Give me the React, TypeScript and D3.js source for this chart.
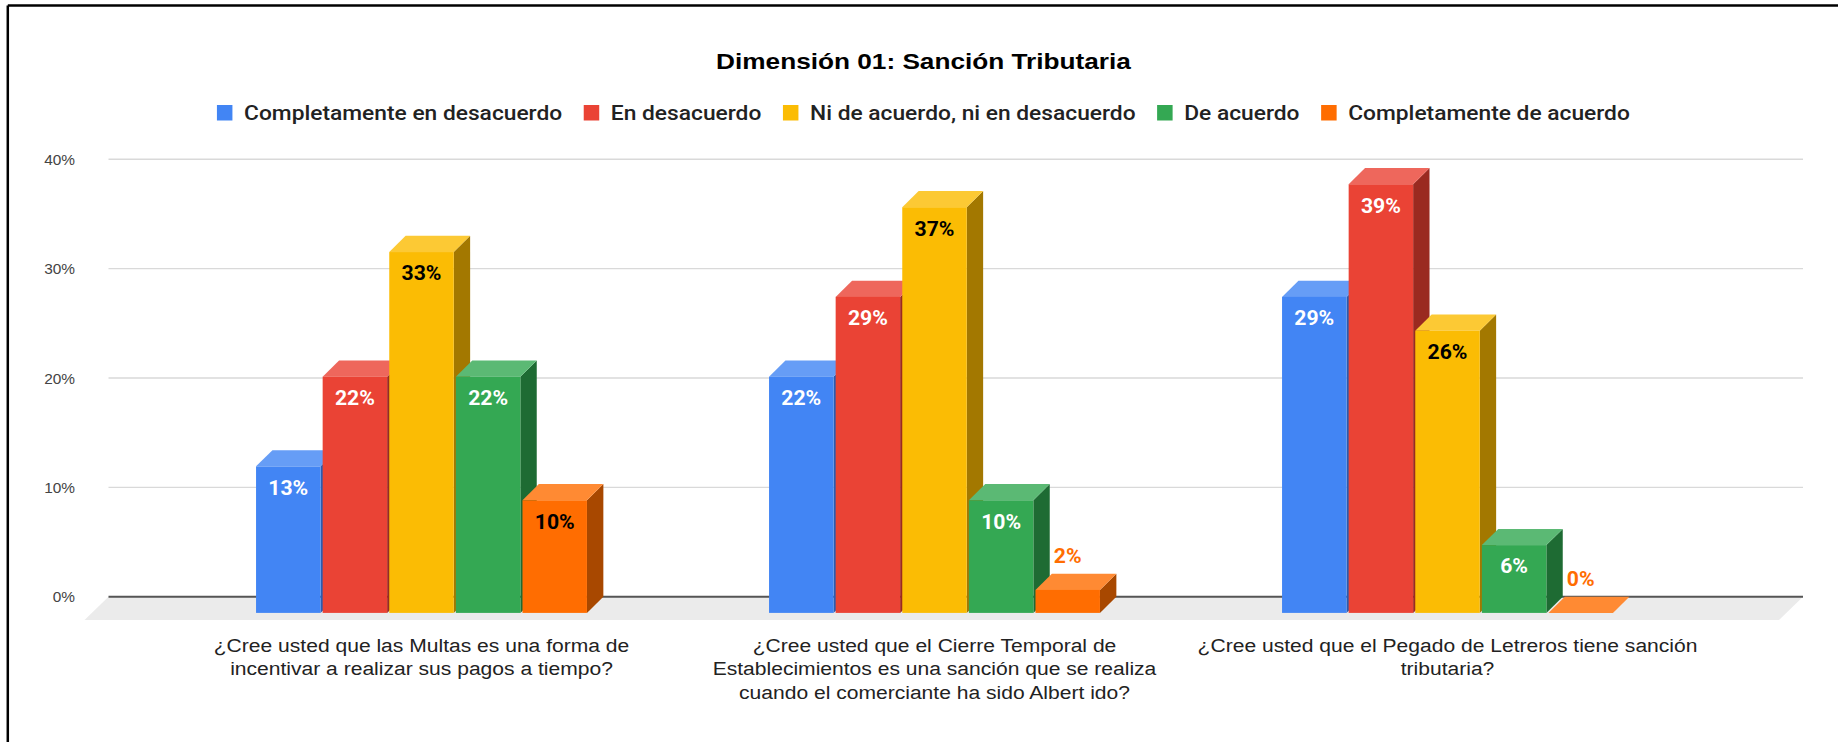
import React from 'react';
import * as d3 from 'd3';

// ---------- data ----------
const categoryLines: string[][] = [
  ['¿Cree usted que las Multas es una forma de', 'incentivar a realizar sus pagos a tiempo?'],
  ['¿Cree usted que el Cierre Temporal de', 'Establecimientos es una sanción que se realiza', 'cuando el comerciante ha sido Albert ido?'],
  ['¿Cree usted que el Pegado de Letreros tiene sanción', 'tributaria?'],
];
const seriesNames = [
  'Completamente en desacuerdo',
  'En desacuerdo',
  'Ni de acuerdo, ni en desacuerdo',
  'De acuerdo',
  'Completamente de acuerdo',
];
const completamenteEnDesacuerdo = [13.4, 21.6, 28.9];
const enDesacuerdo = [21.6, 28.9, 39.2];
const niDeAcuerdoNiEnDesacuerdo = [33.0, 37.1, 25.8];
const deAcuerdo = [21.6, 10.3, 6.2];
const completamenteDeAcuerdo = [10.3, 2.1, 0];
const yTicks = [0, 10, 20, 30, 40];
const titleText = 'Dimensión 01: Sanción Tributaria';

// ---------- styles ----------
const front = ['#4285F4', '#EA4335', '#FBBC04', '#34A853', '#FF6D01'];
const topC = ['#669DF6', '#EE675C', '#FCC934', '#5BB974', '#FF8A33'];
const sideC = ['#2B5CB0', '#9A2A20', '#A37800', '#1E6B33', '#A84800'];
const insideLabel = ['#FFFFFF', '#FFFFFF', '#000000', '#FFFFFF', '#000000'];

const W = 1838;
const H = 742;
const backLeft = 108.5;
const backRight = 1803;
const DX = 16.4;
const DY = 16.2;
const floorDX = 24;
const floorDY = 23.3;

const allSeries = [
  completamenteEnDesacuerdo,
  enDesacuerdo,
  niDeAcuerdoNiEnDesacuerdo,
  deAcuerdo,
  completamenteDeAcuerdo,
];

function measure(text: string, font: string): number {
  const c = document.createElement('canvas');
  const ctx = c.getContext('2d')!;
  ctx.font = font;
  return ctx.measureText(text).width;
}

const SText = ({ x, y, sx, children, ...rest }: any) => (
  <text transform={`translate(${x},${y}) scale(${sx},1)`} {...rest}>
    {children}
  </text>
);

export default function App() {
  const y = d3.scaleLinear().domain([0, 40]).range([596.7, 159.3]);
  const x0 = d3.scaleBand<number>().domain([0, 1, 2]).range([165, 1704]);
  const groupW = 330.9;
  const x1 = d3.scaleBand<string>().domain(seriesNames).range([0, groupW]).paddingInner(0.032);
  const groupLeft = (ci: number) => (x0(ci) as number) + (x0.bandwidth() - groupW) / 2;
  const groupCenter = (ci: number) => (x0(ci) as number) + x0.bandwidth() / 2;
  const bw = x1.bandwidth();
  const baseFront = y(0) + DY;

  // legend layout
  const legFontSize = 19.8;
  const legSX = 1.15;
  const legFont = `500 ${legFontSize}px Roboto`;
  const sq = 15.5;
  const sqGap = 11.6;
  const itemGap = 21.7;
  const widths = seriesNames.map((s) => measure(s, legFont) * legSX);
  const total = widths.reduce((a, b) => a + b, 0) + seriesNames.length * (sq + sqGap) + (seriesNames.length - 1) * itemGap;
  const legCenter = 923.3;
  let cur = legCenter - total / 2;
  const legItems = seriesNames.map((s, i) => {
    const item = { x: cur, w: widths[i], name: s, i };
    cur += sq + sqGap + widths[i] + itemGap;
    return item;
  });

  const bars: React.ReactNode[] = [];
  const labels: React.ReactNode[] = [];
  categoryLines.forEach((_, ci) => {
    seriesNames.forEach((s, si) => {
      const v = allSeries[si][ci];
      const xf = groupLeft(ci) + (x1(s) as number);
      const yt = y(v) + DY;
      const key = `${ci}-${si}`;
      bars.push(
        <g key={key}>
          <polygon
            points={`${xf + bw},${yt} ${xf + bw + DX},${yt - DY} ${xf + bw + DX},${baseFront - DY} ${xf + bw},${baseFront}`}
            fill={sideC[si]}
          />
          <polygon
            points={`${xf},${yt} ${xf + bw},${yt} ${xf + bw + DX},${yt - DY} ${xf + DX},${yt - DY}`}
            fill={topC[si]}
          />
          {baseFront - yt > 0 && <rect x={xf} y={yt} width={bw} height={baseFront - yt} fill={front[si]} />}
        </g>
      );
      const inside = baseFront - yt > 40;
      labels.push(
        <SText
          key={'l' + key}
          x={xf + bw / 2}
          y={inside ? yt + 28.3 : yt - 26.5}
          sx={1.06}
          textAnchor="middle"
          fontFamily="Roboto"
          fontWeight={700}
          fontSize={20}
          fill={inside ? insideLabel[si] : front[si]}
        >
          {`${Math.round(v)}%`}
        </SText>
      );
    });
  });

  return (
    <svg width={W} height={H} style={{ position: 'absolute', left: 0, top: 0, background: '#fff' }}>
      <rect x={0} y={0} width={W} height={H} fill="#fff" />
      {/* frame */}
      <line x1={7.8} y1={5.5} x2={W} y2={5.5} stroke="#000" strokeWidth={2.5} />
      <line x1={7.8} y1={5.5} x2={7.8} y2={H} stroke="#000" strokeWidth={2.5} />

      {/* title */}
      <SText x={923.5} y={69.3} sx={1.165} textAnchor="middle" fontFamily="Liberation Sans, Arial" fontWeight={700} fontSize={22.5} fill="#000">
        {titleText}
      </SText>

      {/* legend */}
      {legItems.map((it) => (
        <g key={it.name}>
          <rect x={it.x} y={105} width={sq} height={sq} fill={front[it.i]} />
          <SText x={it.x + sq + sqGap} y={120} sx={legSX} fontFamily="Roboto" fontWeight={500} fontSize={legFontSize} fill="#222">
            {it.name}
          </SText>
        </g>
      ))}

      {/* floor */}
      <polygon
        points={`${backLeft},${y(0)} ${backRight},${y(0)} ${backRight - floorDX},${y(0) + floorDY} ${backLeft - floorDX},${y(0) + floorDY}`}
        fill="#EBEBEB"
      />

      {/* gridlines */}
      {yTicks.map((t) => (
        <g key={t}>
          {t !== 0 && <line x1={backLeft} x2={backRight} y1={y(t)} y2={y(t)} stroke="#D9D9D9" strokeWidth={1.4} />}
          <text x={75} y={y(t) + 5.5} textAnchor="end" fontFamily="Liberation Sans, Arial" fontSize={15.4} fill="#444">
            {`${t}%`}
          </text>
        </g>
      ))}
      <line x1={backLeft} x2={backRight} y1={y(0)} y2={y(0)} stroke="#555" strokeWidth={2} />

      {bars}
      {labels}

      {/* category labels */}
      {categoryLines.map((lines, ci) => (
        <g key={ci}>
          {lines.map((ln, li) => (
            <SText
              key={li}
              x={groupCenter(ci)}
              y={651.7 + li * 23.5}
              sx={1.133}
              textAnchor="middle"
              fontFamily="Liberation Sans, Arial"
              fontSize={18.6}
              fill="#222"
            >
              {ln}
            </SText>
          ))}
        </g>
      ))}
    </svg>
  );
}
